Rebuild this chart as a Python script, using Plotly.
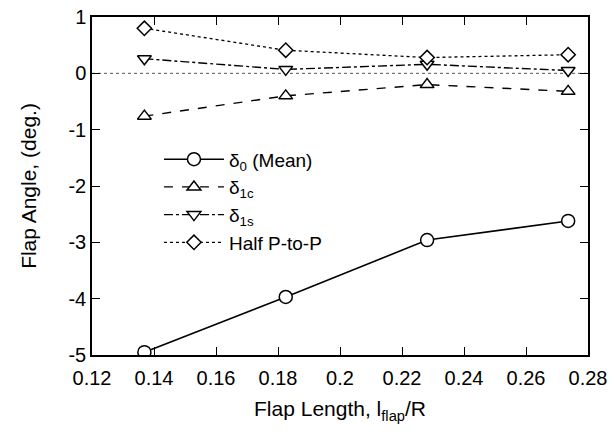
import plotly.graph_objects as go

flap_length = [0.1369, 0.1825, 0.2281, 0.2736]
delta0_mean = [-4.95, -3.97, -2.96, -2.62]
delta1c = [-0.76, -0.40, -0.20, -0.32]
delta1s = [0.26, 0.07, 0.16, 0.05]
half_p2p = [0.80, 0.41, 0.28, 0.33]

y_ticks = [1, 0, -1, -2, -3, -4, -5]
y_tick_labels = ["1", "0", "-1", "-2", "-3", "-4", "-5"]

names = ["δ<sub>0</sub> (Mean)", "δ<sub>1c</sub>", "δ<sub>1s</sub>", "Half P-to-P"]
series = [delta0_mean, delta1c, delta1s, half_p2p]
symbols = ["circle", "triangle-up", "triangle-down", "diamond"]
dashes = ["solid", "dash", "dashdot", "dot"]
msizes = [13, 12, 12, 11]
lwidths = [1.6, 1.4, 1.4, 1.3]

FONT = "Liberation Sans, Arial, sans-serif"
FS = 21
TFS = 20

fig = go.Figure()
for name, ys, sym, dash, ms, lw in zip(names, series, symbols, dashes, msizes, lwidths):
    fig.add_trace(go.Scatter(
        x=flap_length, y=ys, name=name, mode="lines+markers",
        line=dict(color="black", width=lw, dash=dash),
        marker=dict(symbol=sym, size=ms, color="white",
                    line=dict(color="black", width=1.5)),
    ))

fig.add_shape(type="line", xref="paper", x0=0, x1=1, yref="y", y0=0, y1=0,
              line=dict(color="#555555", width=1, dash="dot"), layer="below")

axis_common = dict(
    showline=True, linecolor="black", linewidth=1.5, mirror="ticks",
    ticks="inside", ticklen=8, tickwidth=1.2, tickcolor="black",
    showgrid=False, zeroline=False, automargin=False,
    tickfont=dict(family=FONT, size=TFS, color="black"),
)

fig.update_layout(
    width=616, height=440,
    margin=dict(l=92, r=28, t=17, b=85),
    paper_bgcolor="white", plot_bgcolor="white",
    font=dict(family=FONT, size=FS, color="black"),
    xaxis=dict(range=[0.12, 0.28], dtick=0.02, tick0=0.12, ticklabelstandoff=4,
               title=dict(text="Flap Length, l<sub>flap</sub>/R",
                          font=dict(family=FONT, size=FS), standoff=14),
               **axis_common),
    yaxis=dict(range=[-5, 1], tickvals=y_ticks, ticktext=y_tick_labels,
               title=dict(text="Flap Angle, (deg.)",
                          font=dict(family=FONT, size=FS), standoff=26),
               **axis_common),
    legend=dict(x=0.135, y=0.635, xanchor="left", yanchor="top",
                bgcolor="rgba(0,0,0,0)", itemwidth=60,
                font=dict(family=FONT, size=19), tracegroupgap=0),
    showlegend=True,
)

fig.write_html("out.html")
